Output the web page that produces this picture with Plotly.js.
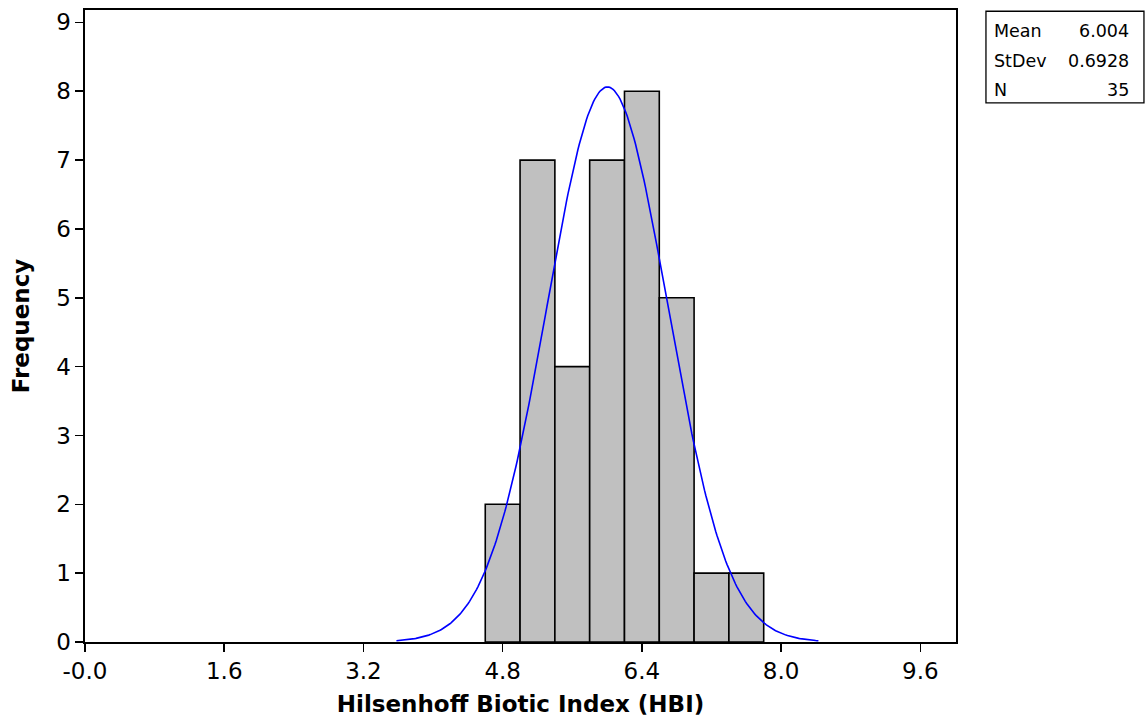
<!DOCTYPE html>
<html>
<head>
<meta charset="utf-8">
<script src="https://cdn.plot.ly/plotly-3.0.1.min.js"></script>
<style>html,body{margin:0;padding:0;background:#fff;}#chart{width:1146px;height:725px;}</style>
</head>
<body>
<div id="chart"></div>
<script>
// Histogram bins (centres) and counts
const binCenters = [4.8, 5.2, 5.6, 6.0, 6.4, 6.8, 7.2, 7.6];
const counts = [2, 7, 4, 7, 8, 5, 1, 1];
const binWidth = 0.4;
// Fitted normal parameters shown in the stats box
const statLabels = ["Mean", "StDev", "N"];
const statValues = ["6.004", "0.6928", "35"];
const fitMean = 6.004;
const fitSd = 0.6928;
const fitN = 35;
// Axis ticks
const xTickVals = [0, 1.6, 3.2, 4.8, 6.4, 8.0, 9.6];
const xTickText = ["-0.0", "1.6", "3.2", "4.8", "6.4", "8.0", "9.6"];
const yTickVals = [0, 1, 2, 3, 4, 5, 6, 7, 8, 9];

// Fitted normal curve scaled to frequency (N * bin width)
const curveX = [], curveY = [];
const nPts = 300;
const lo = fitMean - 3.5 * fitSd, hi = fitMean + 3.5 * fitSd;
for (let i = 0; i <= nPts; i++) {
  const x = lo + (hi - lo) * i / nPts;
  const z = (x - fitMean) / fitSd;
  curveX.push(x);
  curveY.push(fitN * binWidth * Math.exp(-0.5 * z * z) / (fitSd * Math.sqrt(2 * Math.PI)));
}

const FONT = "DejaVu Sans, Verdana, sans-serif";

const traces = [
  {
    type: "bar",
    x: binCenters,
    y: counts,
    width: binWidth,
    marker: {color: "#c0c0c0", line: {color: "#000", width: 1.6}},
    hoverinfo: "x+y"
  },
  {
    type: "scatter",
    mode: "lines",
    x: curveX,
    y: curveY,
    line: {color: "#0000ff", width: 1.6},
    hoverinfo: "skip"
  }
];

const annotations = [];
const rowY = [0.966, 0.919, 0.874];
for (let i = 0; i < statLabels.length; i++) {
  annotations.push({xref: "paper", yref: "paper", x: 1.041, y: rowY[i],
    text: statLabels[i], showarrow: false, xanchor: "left", yanchor: "middle",
    font: {family: FONT, size: 17.5, color: "#000"}});
  annotations.push({xref: "paper", yref: "paper", x: 1.2005, y: rowY[i],
    text: statValues[i], showarrow: false, xanchor: "right", yanchor: "middle",
    font: {family: FONT, size: 17.5, color: "#000"}});
}

const layout = {
  width: 1146, height: 725,
  margin: {l: 85, r: 190, t: 10, b: 83},
  paper_bgcolor: "#fff",
  plot_bgcolor: "#fff",
  showlegend: false,
  bargap: 0,
  font: {family: FONT, color: "#000"},
  xaxis: {
    range: [0, 10.01],
    tickvals: xTickVals,
    ticktext: xTickText,
    ticks: "outside", ticklen: 8, tickwidth: 1.6, tickcolor: "#000",
    showgrid: false, zeroline: false,
    showline: true, linecolor: "#000", linewidth: 1.6, mirror: true,
    tickfont: {family: FONT, size: 23, color: "#000"},
    title: {text: "<b>Hilsenhoff Biotic Index (HBI)</b>", font: {family: FONT, size: 23, color: "#000"}, standoff: 12}
  },
  yaxis: {
    range: [0, 9.18],
    tickvals: yTickVals,
    ticks: "outside", ticklen: 8, tickwidth: 1.6, tickcolor: "#000",
    showgrid: false, zeroline: false,
    showline: true, linecolor: "#000", linewidth: 1.6, mirror: true,
    tickfont: {family: FONT, size: 23, color: "#000"},
    title: {text: "<b>Frequency</b>", font: {family: FONT, size: 23, color: "#000"}, standoff: 20}
  },
  shapes: [
    {type: "rect", xref: "paper", yref: "paper", x0: 1.0344, x1: 1.2158, y0: 0.853, y1: 0.998, line: {color: "#000", width: 1.3}, fillcolor: "rgba(0,0,0,0)"}
  ],
  annotations: annotations
};

Plotly.newPlot("chart", traces, layout, {displayModeBar: false, staticPlot: true});
</script>
</body>
</html>
